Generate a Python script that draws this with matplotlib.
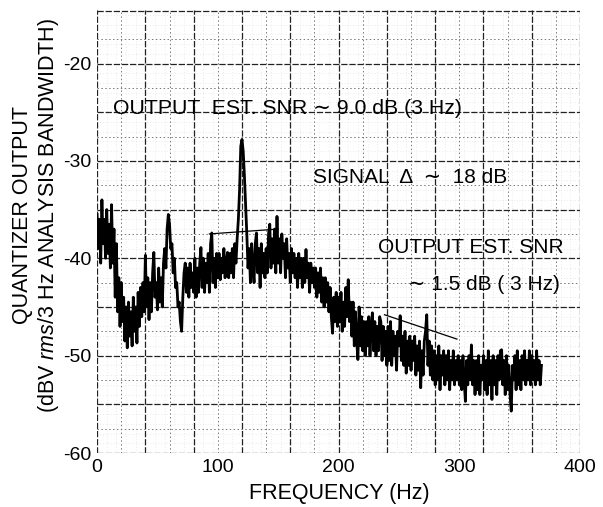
import numpy as np
import matplotlib
matplotlib.use("Agg")
import matplotlib.pyplot as plt

plt.rcParams['font.family'] = ['Liberation Sans', 'DejaVu Sans']
plt.rcParams['mathtext.fontset'] = 'custom'
plt.rcParams['mathtext.rm'] = 'Liberation Sans'
plt.rcParams['mathtext.it'] = 'Liberation Sans:italic'
plt.rcParams['axes.unicode_minus'] = False

# spectrum, one value per Hz (0 .. 368 Hz)
freq = np.arange(0, 369)
level = [
    -35.5, -39.0, -36.0, -40.5, -34.0, -38.5, -36.0, -40.0, -35.0, -39.5,   # 0
    -36.5, -41.0, -34.5, -40.5, -37.0, -44.0, -38.5, -45.5, -42.0, -47.0,   # 10
    -42.5, -46.5, -44.0, -48.5, -45.0, -49.2, -44.5, -48.0, -45.5, -49.0,   # 20
    -44.0, -47.5, -45.0, -48.7, -43.5, -47.0, -43.0, -46.0, -42.5, -45.5,   # 30
    -39.7, -45.0, -42.0, -46.3, -42.5, -45.5, -41.5, -39.4, -44.0, -42.5,   # 40
    -45.3, -41.0, -44.5, -42.0, -45.0, -40.5, -39.0, -41.0, -37.0, -35.5,   # 50
    -36.5, -39.0, -38.5, -41.5, -40.0, -43.0, -42.5, -45.0, -44.5, -46.5,   # 60
    -47.5, -44.0, -41.5, -40.5, -43.5, -41.0, -44.0, -40.5, -43.0, -41.5,   # 70
    -43.5, -40.0, -44.0, -41.0, -43.5, -40.5, -38.9, -43.0, -40.0, -43.5,   # 80
    -40.5, -42.5, -39.5, -43.5, -38.5, -37.4, -42.5, -40.0, -43.0, -39.5,   # 90
    -42.0, -39.5, -42.2, -40.0, -41.5, -39.0, -42.0, -40.5, -39.4, -42.0,   # 100
    -39.5, -41.5, -39.0, -42.0, -38.5, -40.5, -38.0, -36.0, -33.0, -28.5,   # 110
    -27.8, -29.0, -31.5, -34.5, -37.5, -41.0, -39.0, -42.5, -38.5, -41.0,   # 120
    -42.5, -38.5, -37.4, -41.5, -39.0, -43.0, -38.5, -41.5, -39.5, -42.0,   # 130
    -39.0, -41.5, -37.5, -36.5, -41.0, -38.0, -40.5, -37.0, -41.5, -35.7,   # 140
    -40.5, -38.0, -41.5, -37.5, -40.0, -38.5, -42.0, -38.0, -41.0, -39.5,   # 150
    -42.5, -39.0, -41.5, -39.5, -42.0, -40.0, -43.0, -39.5, -42.0, -40.0,   # 160
    -43.0, -40.0, -42.5, -39.1, -42.0, -40.5, -43.5, -40.5, -42.5, -41.0,   # 170
    -43.0, -41.0, -44.0, -41.5, -43.5, -41.0, -44.5, -42.0, -45.0, -42.0,   # 180
    -44.5, -42.5, -45.5, -43.0, -46.0, -47.7, -44.0, -46.5, -43.5, -47.0,   # 190
    -44.0, -46.5, -43.5, -47.5, -44.5, -47.0, -43.0, -46.0, -42.2, -46.5,   # 200
    -44.5, -48.0, -44.5, -49.0, -45.5, -48.5, -50.4, -45.0, -49.0, -46.0,   # 210
    -49.5, -46.5, -50.0, -46.5, -49.0, -46.0, -50.0, -47.0, -45.6, -49.5,   # 220
    -46.5, -50.0, -47.0, -49.5, -46.0, -46.5, -50.5, -47.0, -50.0, -47.5,   # 230
    -51.0, -47.0, -50.5, -46.5, -51.0, -47.5, -50.0, -48.0, -51.5, -47.5,   # 240
    -49.0, -45.9, -50.5, -48.0, -51.0, -47.5, -51.8, -48.5, -51.0, -48.0,   # 250
    -51.5, -48.5, -50.5, -48.0, -52.0, -49.0, -51.5, -48.5, -53.3, -49.5,   # 260
    -52.0, -48.5, -47.5, -45.8, -51.0, -48.5, -52.0, -49.0, -52.5, -49.5,   # 270
    -53.0, -50.0, -52.5, -49.0, -53.5, -50.0, -52.0, -49.5, -53.0, -50.0,   # 280
    -52.5, -49.5, -53.5, -50.5, -52.5, -49.5, -53.0, -50.5, -52.5, -50.0,   # 290
    -53.0, -50.5, -53.5, -50.0, -52.5, -54.7, -50.5, -53.0, -50.0, -52.5,   # 300
    -48.9, -53.0, -50.5, -54.0, -50.5, -53.5, -50.0, -54.0, -51.0, -52.5,   # 310
    -50.0, -53.5, -50.5, -54.0, -49.5, -53.0, -50.5, -54.5, -50.0, -53.0,   # 320
    -50.5, -54.0, -50.0, -52.5, -49.5, -49.4, -53.0, -50.5, -54.0, -50.0,   # 330
    -53.5, -51.0, -54.0, -55.7, -51.0, -52.5, -50.0, -53.5, -49.5, -53.0,   # 340
    -50.5, -53.5, -50.0, -52.5, -49.5, -53.0, -50.5, -52.5, -49.5, -53.0,   # 350
    -50.0, -52.5, -50.5, -53.0, -49.5, -52.5, -50.5, -53.0, -51.0,          # 360
]

# thin reference lines drawn by hand on the original
ref_sig_x = [93, 150]
ref_sig_y = [-37.5, -37.0]
ref_snr_x = [238, 298]
ref_snr_y = [-45.8, -48.3]

xticks = [0, 100, 200, 300, 400]
yticks = [-60, -50, -40, -30, -20]

fig = plt.figure(figsize=(6.03, 5.07), dpi=100)
ax = fig.add_axes([0.161, 0.1065, 0.801, 0.8738])
ax.set_xlim(0, 400)
ax.set_ylim(-60, -14.5)

# graph paper
for x in np.arange(0, 401, 8):
    ax.axvline(x, color='#d8d8d8', lw=0.5, ls=(0, (1, 3)), zorder=0)
for y in np.arange(-60, -14, 1):
    ax.axhline(y, color='#d8d8d8', lw=0.5, ls=(0, (1, 3)), zorder=0)
for x in np.arange(20, 400, 40):
    ax.axvline(x, color='#777777', lw=0.7, ls=(0, (1.5, 2.5)), zorder=1)
for y in np.arange(-57.5, -14, 5):
    ax.axhline(y, color='#777777', lw=0.7, ls=(0, (1.5, 2.5)), zorder=1)
for x in np.arange(0, 401, 40):
    ax.axvline(x, color='#222222', lw=0.9, ls=(0, (5, 1.5)), zorder=1)
for y in np.arange(-60, -19, 5):
    ax.axhline(y, color='#222222', lw=0.9, ls=(0, (5, 1.5)), zorder=1)
ax.axhline(-14.6, color='#222222', lw=0.9, ls=(0, (5, 1.5)), zorder=1)

ax.plot(freq, level, color='black', lw=2.0, zorder=3)
ax.plot(ref_sig_x, ref_sig_y, color='black', lw=0.9, zorder=3)
ax.plot(ref_snr_x, ref_snr_y, color='black', lw=0.9, zorder=3)

for s in ax.spines.values():
    s.set_visible(False)
ax.set_xticks(xticks)
ax.set_yticks(yticks)
ax.tick_params(length=0, labelsize=14, pad=4)

ax.text(13, -24.6, 'OUTPUT  EST. SNR \u223c 9.0 dB (3 Hz)', fontsize=15.3,
        va='center', ha='left', zorder=4)
ax.text(179, -31.7, 'SIGNAL  \u0394  \u223c  18 dB', fontsize=15, va='center', ha='left')
ax.text(386, -38.9, 'OUTPUT EST. SNR', fontsize=15, va='center', ha='right')
ax.text(383, -42.7, '\u223c 1.5 dB ( 3 Hz)', fontsize=15, va='center', ha='right')

fig.text(0.037, 0.575, 'QUANTIZER OUTPUT', rotation=90, fontsize=15.5,
         ha='center', va='center')
fig.text(0.080, 0.575, r'(dBV $\mathit{rms}$/3 Hz ANALYSIS BANDWIDTH)', rotation=90,
         fontsize=15.5, ha='center', va='center')
fig.text(0.563, 0.026, 'FREQUENCY (Hz)', fontsize=15.5, ha='center', va='center')

fig.savefig('out.png', dpi=100)
